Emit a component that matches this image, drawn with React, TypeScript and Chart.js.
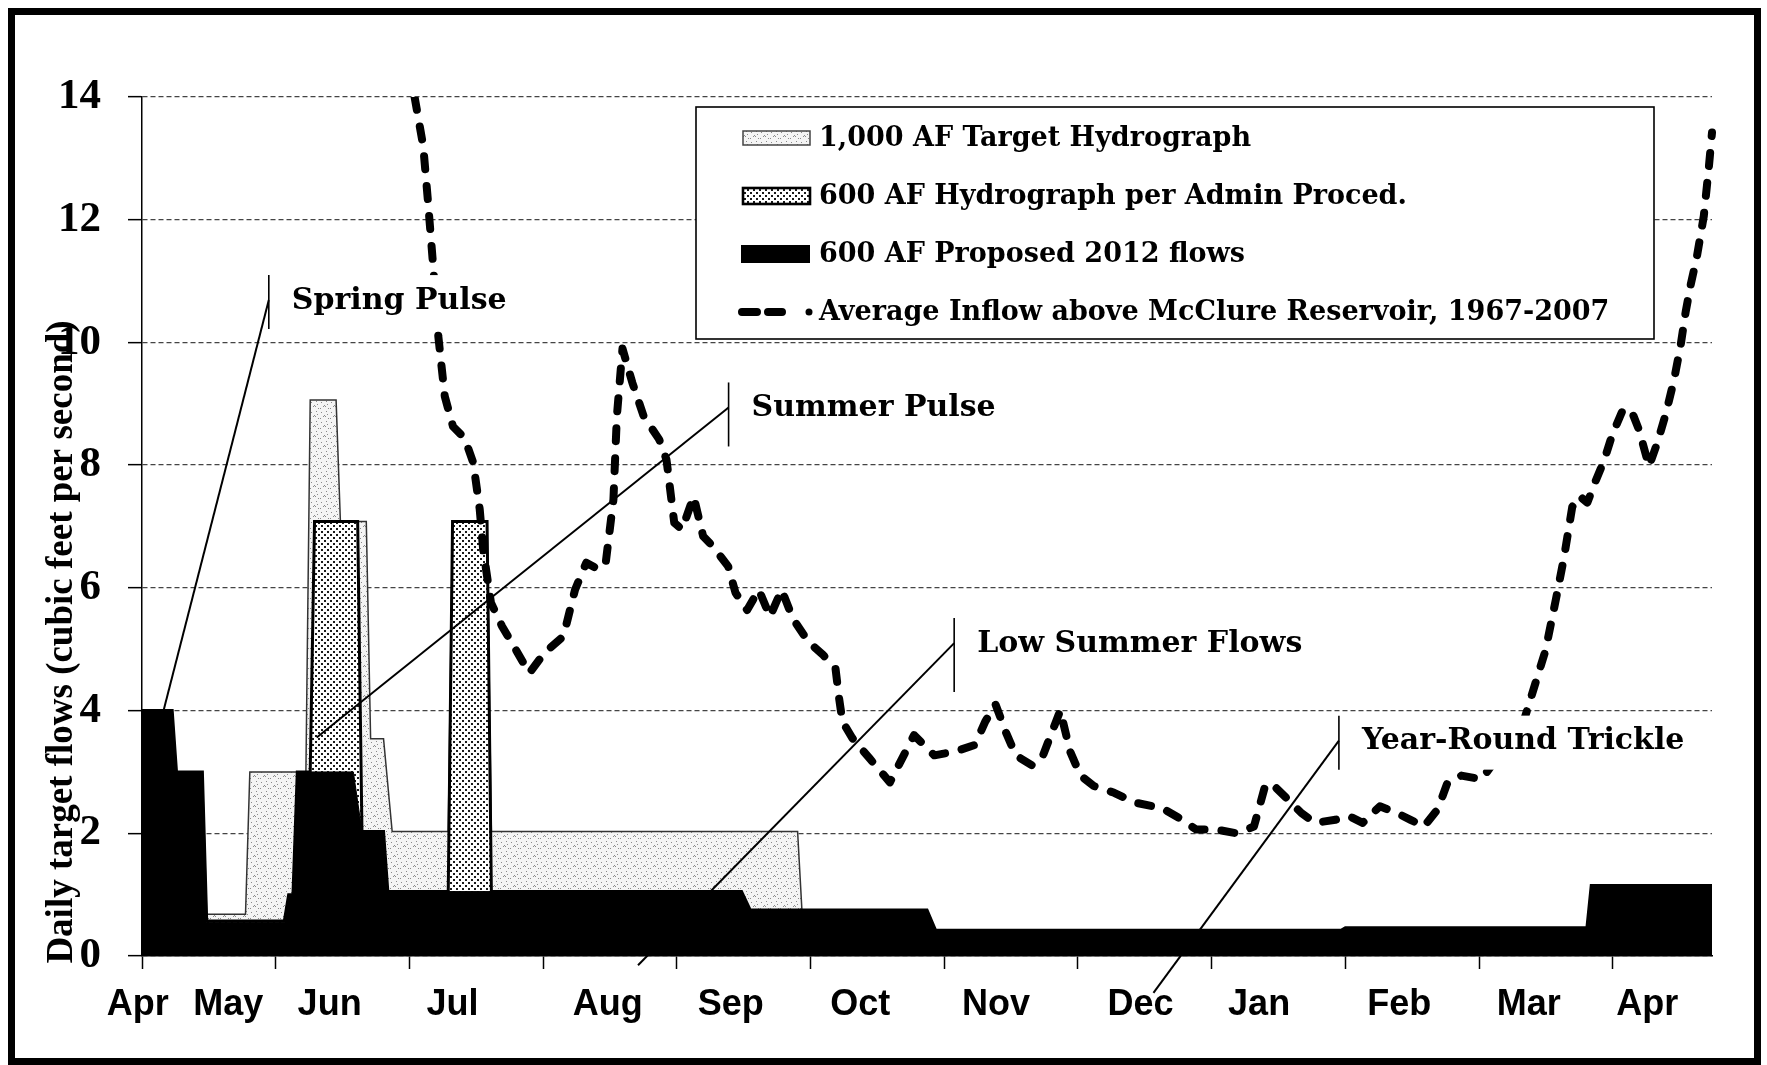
import React, { useEffect, useRef } from "react";
import { Chart, registerables } from "chart.js";

Chart.register(...registerables);

const CANVAS_W = 1767;
const CANVAS_H = 1065;

// ---------- labels ----------
const seriesLabels = [
  "1,000 AF Target Hydrograph",
  "600 AF Hydrograph per Admin Proced.",
  "600 AF Proposed 2012 flows",
  "Average Inflow above McClure Reservoir, 1967-2007",
];
const yAxisTitle = "Daily target flows (cubic feet per second)";

// x axis: days since April 1
const tickDays = [0, 31, 62, 93, 124, 155, 186, 217, 248, 279, 310, 341];
const monthLabels = ["Apr", "May", "Jun", "Jul", "Aug", "Sep", "Oct", "Nov", "Dec", "Jan", "Feb", "Mar", "Apr"];
const monthLabelDays = [-1, 20, 43.5, 72, 108, 136.5, 166.5, 198, 231.5, 259, 291.5, 321.5, 349];

// ---------- series (vertices of the step hydrographs) ----------
const target1000Days = [0, 7, 8, 14, 15, 24, 25, 38, 39, 45, 46, 52, 53, 56, 58, 71, 72, 80, 81, 152, 153, 182, 184, 278, 279, 335, 336, 364];
const target1000Values = [4, 4, 3, 3, 0.68, 0.68, 3, 3, 9.06, 9.06, 7.08, 7.08, 3.54, 3.54, 2.03, 2.03, 7.08, 7.08, 2.03, 2.03, 0.75, 0.75, 0.42, 0.42, 0.46, 0.46, 1.15, 1.15];

const adminDays = [0, 7, 8, 14, 15, 33, 34, 35, 36, 39, 40, 50, 51, 56, 57, 71, 72, 80, 81, 139, 141, 182, 184, 278, 279, 335, 336, 364];
const adminValues = [4, 4, 3, 3, 0.57, 0.57, 1, 1, 3, 3, 7.08, 7.08, 2.03, 2.03, 1.05, 1.05, 7.08, 7.08, 1.05, 1.05, 0.75, 0.75, 0.42, 0.42, 0.46, 0.46, 1.15, 1.15];

const proposedDays = [0, 7, 8, 14, 15, 33, 34, 35, 36, 49, 51, 56, 57, 139, 141, 182, 184, 278, 279, 335, 336, 364];
const proposedValues = [4, 4, 3, 3, 0.55, 0.55, 1, 1, 3, 3, 2.03, 2.03, 1.05, 1.05, 0.75, 0.75, 0.42, 0.42, 0.46, 0.46, 1.15, 1.15];

const inflowDays = [
  63.2, 65.2, 66.3, 67.5, 68.7, 70.2, 72.1, 74.8, 76.8, 78.3, 79.1, 80.9, 83.5, 86.2, 89.8, 93.3, 97.7,
  100.4, 103, 105.8, 107.5, 109.3, 110.1, 111.4, 113.7, 116.3, 119.9, 121.6, 123.4, 125.2, 127.9, 130.1,
  132.3, 135.9, 137.6, 140.3, 143, 145.6, 148.3, 150.9, 154.5, 158, 160.8, 161.6, 162.4, 164.7, 168.7,
  173.4, 175.8, 179, 183.7, 188.4, 193.1, 195.5, 197.9, 200.2, 202.6, 206.5, 208.9, 211.3, 212.9, 215.2,
  217.6, 220.7, 225.4, 230.2, 236.5, 241.2, 244.4, 249.1, 253.8, 257.8, 260.5, 262.5, 266.4, 268.8, 272,
  276.7, 279.9, 283, 287, 290.9, 294.1, 297.2, 300.4, 302.7, 305.9, 310.6, 320.4, 325.4, 327.8, 329.7,
  331.6, 333.2, 335.1, 337, 339, 340.9, 343.2, 345.2, 347.1, 349.4, 351.3, 353.3, 355.2, 356.7, 357.9,
  359, 360.5, 362.1, 363.3, 364,
];
const inflowValues = [
  14.0, 13.2, 12.3, 11.25, 10.1, 9.12, 8.63, 8.44, 8.04, 7.28, 6.62, 5.76, 5.37, 5.05, 4.61, 4.94, 5.21,
  5.97, 6.41, 6.3, 6.4, 7.44, 8.8, 9.9, 9.34, 8.8, 8.42, 8.09, 7.06, 6.95, 7.49, 6.84,
  6.68, 6.35, 5.92, 5.64, 5.97, 5.53, 5.97, 5.5, 5.12, 4.9, 4.68, 4.21, 3.82, 3.55, 3.22,
  2.83, 3.16, 3.6, 3.27, 3.33, 3.44, 3.82, 4.1, 3.66, 3.27, 3.1, 3.27, 3.71, 4.0, 3.33,
  2.94, 2.77, 2.66, 2.5, 2.41, 2.22, 2.06, 2.06, 2.0, 2.11, 2.8, 2.77, 2.5, 2.33, 2.17,
  2.22, 2.28, 2.17, 2.44, 2.33, 2.22, 2.11, 2.39, 2.83, 2.94, 2.88, 3.84, 4.98, 5.81, 6.5,
  7.32, 7.5, 7.39, 7.74, 8.08, 8.5, 8.88, 8.91, 8.57, 7.98, 8.36, 8.84, 9.39, 9.94, 10.5,
  10.92, 11.4, 12.06, 12.88, 13.42,
];

// ---------- callouts ----------
const calloutLabels = ["Spring Pulse", "Summer Pulse", "Low Summer Flows", "Year-Round Trickle"];
const calloutAnchorDays = [29.4, 136, 188.3, 277.5];
const calloutAnchorValues = [10.69, 8.94, 5.1, 3.51];
const calloutTargetDays = [5, 40.5, 115, 234.5];
const calloutTargetValues = [4.0, 3.56, -0.15, -0.6];
const calloutBarUp = [25, 25, 25, 25];
const calloutBarDown = [29, 39, 49, 29];

const toPoints = (xs: number[], ys: number[]) => xs.map((x, i) => ({ x, y: ys[i] }));

function makeAdminPattern(ctx: CanvasRenderingContext2D) {
  const c = document.createElement("canvas");
  c.width = 6;
  c.height = 6;
  const g = c.getContext("2d")!;
  g.fillStyle = "#ffffff";
  g.fillRect(0, 0, 6, 6);
  g.fillStyle = "#1a1a1a";
  g.fillRect(0, 0, 2, 2);
  g.fillRect(3, 3, 2, 2);
  return ctx.createPattern(c, "repeat")!;
}

function makeLightPattern(ctx: CanvasRenderingContext2D) {
  const c = document.createElement("canvas");
  c.width = 10;
  c.height = 10;
  const g = c.getContext("2d")!;
  g.fillStyle = "#f4f4f4";
  g.fillRect(0, 0, 10, 10);
  g.fillStyle = "#8a8a8a";
  const dots = [[1, 2], [6, 1], [3, 6], [4, 5], [5, 6], [8, 8], [0, 8], [7, 4]];
  dots.forEach(([x, y]) => g.fillRect(x, y, 1, 1));
  return ctx.createPattern(c, "repeat")!;
}

export default function App() {
  const canvasRef = useRef<HTMLCanvasElement | null>(null);

  useEffect(() => {
    const canvas = canvasRef.current;
    if (!canvas) return;
    const ctx0 = canvas.getContext("2d")!;
    const adminPattern = makeAdminPattern(ctx0);
    const lightPattern = makeLightPattern(ctx0);

    const backgroundPlugin = {
      id: "bg",
      beforeDraw(chart: any) {
        const c = chart.ctx;
        c.save();
        c.fillStyle = "#ffffff";
        c.fillRect(0, 0, chart.width, chart.height);
        c.restore();
      },
    };

    const overlayPlugin = {
      id: "overlay",
      afterDatasetsDraw(chart: any) {
        const c: CanvasRenderingContext2D = chart.ctx;
        const xs = chart.scales.x;
        const ys = chart.scales.y;
        c.save();

        // callouts
        c.font = "bold 30px 'DejaVu Serif'";
        calloutLabels.forEach((label, i) => {
          const bx = xs.getPixelForValue(calloutAnchorDays[i]);
          const by = ys.getPixelForValue(calloutAnchorValues[i]);
          const tx = xs.getPixelForValue(calloutTargetDays[i]);
          const ty = ys.getPixelForValue(calloutTargetValues[i]);
          c.strokeStyle = "#000";
          c.lineWidth = 2;
          c.beginPath();
          c.moveTo(bx, by);
          c.lineTo(tx, ty);
          c.stroke();
          const tw = c.measureText(label).width;
          const top = by - calloutBarUp[i];
          const bottom = by + calloutBarDown[i];
          c.fillStyle = "#ffffff";
          c.fillRect(bx + 1, top, 23 + tw + 8, bottom - top);
          c.lineWidth = 1.6;
          c.beginPath();
          c.moveTo(bx, top);
          c.lineTo(bx, bottom);
          c.stroke();
          c.fillStyle = "#000";
          c.textAlign = "left";
          c.textBaseline = "middle";
          c.fillText(label, bx + 23, by + 1);
        });

        // legend box
        const L = 696, T = 107, R = 1654, B = 339;
        c.fillStyle = "#ffffff";
        c.fillRect(L, T, R - L, B - T);
        c.strokeStyle = "#000";
        c.lineWidth = 1.6;
        c.strokeRect(L, T, R - L, B - T);
        const rows = [138, 196, 254, 312];
        // icon 1
        c.fillStyle = lightPattern;
        c.fillRect(743, 131, 67, 14);
        c.strokeStyle = "#444";
        c.lineWidth = 1.5;
        c.strokeRect(743, 131, 67, 14);
        // icon 2
        c.fillStyle = adminPattern;
        c.fillRect(743, 188, 67, 16);
        c.strokeStyle = "#000";
        c.lineWidth = 2.6;
        c.strokeRect(743, 188, 67, 16);
        // icon 3
        c.fillStyle = "#000";
        c.fillRect(741, 245, 69, 18);
        // icon 4
        c.lineWidth = 8;
        c.lineCap = "round";
        c.beginPath();
        c.moveTo(742, rows[3]);
        c.lineTo(757, rows[3]);
        c.moveTo(768, rows[3]);
        c.lineTo(782, rows[3]);
        c.stroke();
        c.beginPath();
        c.arc(809, rows[3], 3.5, 0, Math.PI * 2);
        c.fill();
        c.font = "bold 27px 'DejaVu Serif'";
        c.textAlign = "left";
        c.textBaseline = "middle";
        seriesLabels.forEach((s, i) => c.fillText(s, 819, rows[i] + 1));

        c.restore();
      },
      afterDraw(chart: any) {
        const c: CanvasRenderingContext2D = chart.ctx;
        const xs = chart.scales.x;
        const area = chart.chartArea;
        c.save();
        // month labels
        c.font = "bold 36px 'Liberation Sans'";
        c.fillStyle = "#000";
        c.textAlign = "center";
        c.textBaseline = "middle";
        monthLabels.forEach((m, i) => {
          c.fillText(m, xs.getPixelForValue(monthLabelDays[i]), area.bottom + 49);
        });
        // y axis title
        c.translate(62, 642);
        c.rotate(-Math.PI / 2);
        c.font = "bold 37px 'Liberation Serif'";
        c.fillText(yAxisTitle, 0, 0);
        c.restore();
        // frame
        c.save();
        c.strokeStyle = "#000";
        c.lineWidth = 7;
        c.strokeRect(11.5, 11.5, 1746, 1050);
        c.restore();
      },
    };

    const chart = new Chart(canvas, {
      type: "line",
      data: {
        datasets: [
          {
            label: seriesLabels[0],
            data: toPoints(target1000Days, target1000Values),
            borderColor: "#333",
            borderWidth: 1.5,
            backgroundColor: lightPattern,
            fill: "origin",
            pointRadius: 0,
            order: 3,
          },
          {
            label: seriesLabels[1],
            data: toPoints(adminDays, adminValues),
            borderColor: "#000",
            borderWidth: 3,
            backgroundColor: adminPattern,
            fill: "origin",
            pointRadius: 0,
            order: 2,
          },
          {
            label: seriesLabels[2],
            data: toPoints(proposedDays, proposedValues),
            borderColor: "#000",
            borderWidth: 1,
            backgroundColor: "#000",
            fill: "origin",
            pointRadius: 0,
            order: 1,
          },
          {
            label: seriesLabels[3],
            data: toPoints(inflowDays, inflowValues),
            borderColor: "#000",
            borderWidth: 8,
            borderDash: [13, 17],
            borderCapStyle: "round",
            borderJoinStyle: "round",
            fill: false,
            pointRadius: 0,
            order: 0,
            clip: { left: 0, top: 0, right: 8, bottom: 0 },
          },
        ] as any,
      },
      options: {
        responsive: false,
        maintainAspectRatio: false,
        animation: false,
        events: [],
        layout: { padding: { left: 0, top: 97, right: 55, bottom: 0 } },
        elements: { line: { tension: 0 } },
        plugins: {
          legend: { display: false },
          tooltip: { enabled: false },
        },
        scales: {
          x: {
            type: "linear",
            min: 0,
            max: 364,
            afterBuildTicks: (axis: any) => {
              axis.ticks = tickDays.map((v) => ({ value: v }));
            },
            afterFit: (scale: any) => {
              scale.height = CANVAS_H - 956;
            },
            ticks: { display: false },
            grid: {
              drawOnChartArea: false,
              drawTicks: true,
              tickLength: 13,
              tickColor: "#000",
              tickWidth: 1.5,
            },
            border: { display: true, color: "#000", width: 1.5 },
          },
          y: {
            type: "linear",
            min: 0,
            max: 14,
            afterFit: (scale: any) => {
              scale.width = 142;
            },
            ticks: {
              stepSize: 2,
              padding: 27,
              color: "#000",
              font: { family: "'Liberation Serif', serif", size: 43, weight: "bold" },
            },
            grid: {
              color: "#444",
              lineWidth: 1.3,
              drawTicks: true,
              tickLength: 14,
              tickColor: "#000",
              tickWidth: 1.5,
            },
            border: { display: true, color: "#000", width: 1.5, dash: [5, 3] },
          },
        } as any,
      },
      plugins: [backgroundPlugin, overlayPlugin],
    });

    return () => chart.destroy();
  }, []);

  return (
    <div style={{ position: "fixed", left: 0, top: 0, width: CANVAS_W, height: CANVAS_H, background: "#fff" }}>
      <canvas
        ref={canvasRef}
        width={CANVAS_W}
        height={CANVAS_H}
        style={{ display: "block", width: CANVAS_W, height: CANVAS_H }}
      />
    </div>
  );
}
